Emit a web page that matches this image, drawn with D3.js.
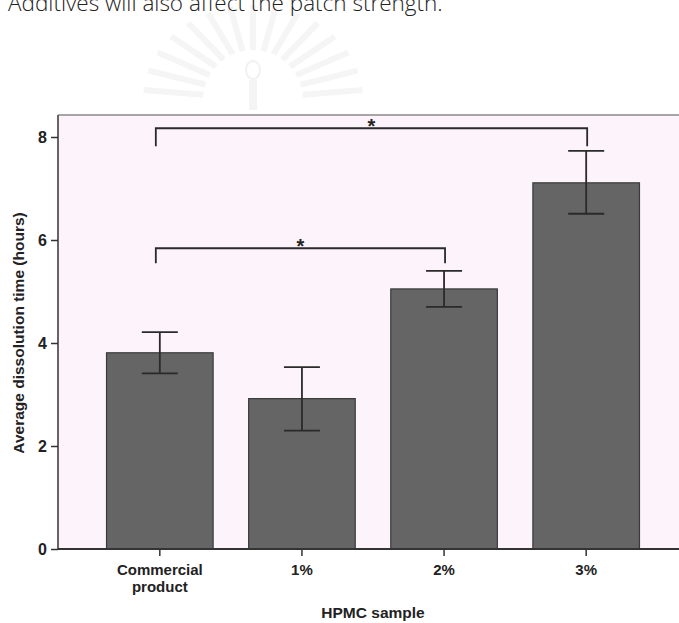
<!DOCTYPE html>
<html>
<head>
<meta charset="utf-8">
<script src="https://cdn.jsdelivr.net/npm/d3@7"></script>
<style>
  body { margin: 0; background: #fff; }
  svg { display: block; }
</style>
</head>
<body>
<svg id="chart" width="679" height="623"></svg>
<script>
// data
const categories = ["Commercial product", "1%", "2%", "3%"];
const means = [3.81, 2.92, 5.05, 7.11];
const errHigh = [4.21, 3.53, 5.40, 7.73];
const errLow = [3.41, 2.30, 4.70, 6.51];
const yTicks = [0, 2, 4, 6, 8];
// significance brackets: [from, to, level, leg end]
const brackets = [
  ["Commercial product", "3%", 8.17, 7.82],
  ["Commercial product", "2%", 5.84, 5.55]
];

const svg = d3.select("#chart");
const width = +svg.attr("width");
const font = "'Liberation Sans', Arial, sans-serif";

// faint emblem watermark behind everything
const wm = svg.append("g").attr("transform", "translate(253,100)");
d3.range(0, 15).forEach(i => {
  const a = Math.PI + (i + 0.5) * Math.PI / 15;
  wm.append("line")
    .attr("x1", Math.cos(a) * 50).attr("y1", Math.sin(a) * 50)
    .attr("x2", Math.cos(a) * 110).attr("y2", Math.sin(a) * 95)
    .attr("stroke", "#f5f5f5").attr("stroke-width", 6);
});
wm.append("ellipse").attr("cx", 0).attr("cy", -30).attr("rx", 7).attr("ry", 9)
  .attr("fill", "none").attr("stroke", "#f1f1f1").attr("stroke-width", 2);
wm.append("rect").attr("x", -4).attr("y", -20).attr("width", 8).attr("height", 30).attr("fill", "#f4f4f4");

// caption line cut at top of page
svg.append("text")
  .attr("x", 8).attr("y", 11)
  .attr("font-family", "'Open Sans', sans-serif")
  .attr("font-weight", 300)
  .attr("font-size", 22.5)
  .attr("fill", "#222")
  .text("Additives will also affect the patch strength.");

const plot = { left: 58, top: 115, bottom: 549 };

const x = d3.scaleBand()
  .domain(categories)
  .range([71, 675])
  .paddingInner(0.25)
  .paddingOuter(0.25);

const y = d3.scaleLinear()
  .domain([0, 8])
  .range([plot.bottom, 137]);

// plot background
svg.append("rect")
  .attr("x", plot.left).attr("y", plot.top)
  .attr("width", width - plot.left).attr("height", plot.bottom - plot.top)
  .attr("fill", "#fcf3fb");

svg.append("line")
  .attr("x1", plot.left).attr("x2", width)
  .attr("y1", plot.top).attr("y2", plot.top)
  .attr("stroke", "#8a8a8a").attr("stroke-width", 1.5);

// bars
svg.append("g").selectAll("rect")
  .data(categories)
  .enter().append("rect")
  .attr("x", d => x(d))
  .attr("y", (d, i) => y(means[i]))
  .attr("width", x.bandwidth())
  .attr("height", (d, i) => y(0) - y(means[i]))
  .attr("fill", "#656565")
  .attr("stroke", "#3a3a3a")
  .attr("stroke-width", 1.2);

// error bars
const eb = svg.append("g").attr("stroke", "#2a2a2a").attr("stroke-width", 1.8);
categories.forEach((c, i) => {
  const cx = x(c) + x.bandwidth() / 2;
  eb.append("line").attr("x1", cx).attr("x2", cx).attr("y1", y(errHigh[i])).attr("y2", y(errLow[i]));
  [errHigh[i], errLow[i]].forEach(v => {
    eb.append("line").attr("x1", cx - 18).attr("x2", cx + 18).attr("y1", y(v)).attr("y2", y(v));
  });
});

// significance brackets
const br = svg.append("g");
brackets.forEach(b => {
  const x1 = x(b[0]) + x.bandwidth() / 2 - 4;
  const x2 = x(b[1]) + x.bandwidth() / 2 + 1;
  br.append("path")
    .attr("d", `M${x1},${y(b[3])}V${y(b[2])}H${x2}V${y(b[3])}`)
    .attr("fill", "none").attr("stroke", "#2a2a2a").attr("stroke-width", 1.8);
  br.append("text")
    .attr("x", (x1 + x2) / 2).attr("y", y(b[2]) + 5)
    .attr("text-anchor", "middle")
    .attr("font-family", font)
    .attr("font-weight", "bold").attr("font-size", 20)
    .attr("fill", "#222")
    .text("*");
});

// y axis
const yAxis = svg.append("g")
  .attr("transform", `translate(${plot.left},0)`)
  .call(d3.axisLeft(y).tickValues(yTicks).tickSize(7).tickPadding(4).tickSizeOuter(0));
yAxis.select(".domain").attr("d", `M0,${plot.top}V${plot.bottom}`).attr("stroke", "#555").attr("stroke-width", 1.8);
yAxis.selectAll(".tick line").attr("stroke", "#333").attr("stroke-width", 1.5);
yAxis.selectAll(".tick text")
  .attr("font-family", font)
  .attr("font-weight", "bold").attr("font-size", 16).attr("fill", "#222");

// x axis
const xAxis = svg.append("g")
  .attr("transform", `translate(0,${plot.bottom})`)
  .call(d3.axisBottom(x).tickSize(7).tickSizeOuter(0).tickFormat(""));
xAxis.select(".domain").attr("d", `M${plot.left},0H${width}`).attr("stroke", "#333").attr("stroke-width", 1.8);
xAxis.selectAll(".tick line").attr("stroke", "#333").attr("stroke-width", 1.5);
xAxis.selectAll(".tick").each(function (d) {
  const words = d === "Commercial product" ? ["Commercial", "product"] : [d];
  const t = d3.select(this).append("text")
    .attr("text-anchor", "middle")
    .attr("font-family", font)
    .attr("font-weight", "bold").attr("font-size", 15).attr("fill", "#222");
  words.forEach((w, k) => {
    t.append("tspan").attr("x", 0).attr("y", 26 + k * 16.5).text(w);
  });
});

// axis titles
svg.append("text")
  .attr("x", 373).attr("y", 618)
  .attr("text-anchor", "middle")
  .attr("font-family", font)
  .attr("font-weight", "bold").attr("font-size", 15.5).attr("fill", "#222")
  .text("HPMC sample");

svg.append("text")
  .attr("transform", "translate(24,333) rotate(-90)")
  .attr("text-anchor", "middle")
  .attr("font-family", font)
  .attr("font-weight", "bold").attr("font-size", 15.5).attr("fill", "#222")
  .text("Average dissolution time (hours)");
</script>
</body>
</html>
